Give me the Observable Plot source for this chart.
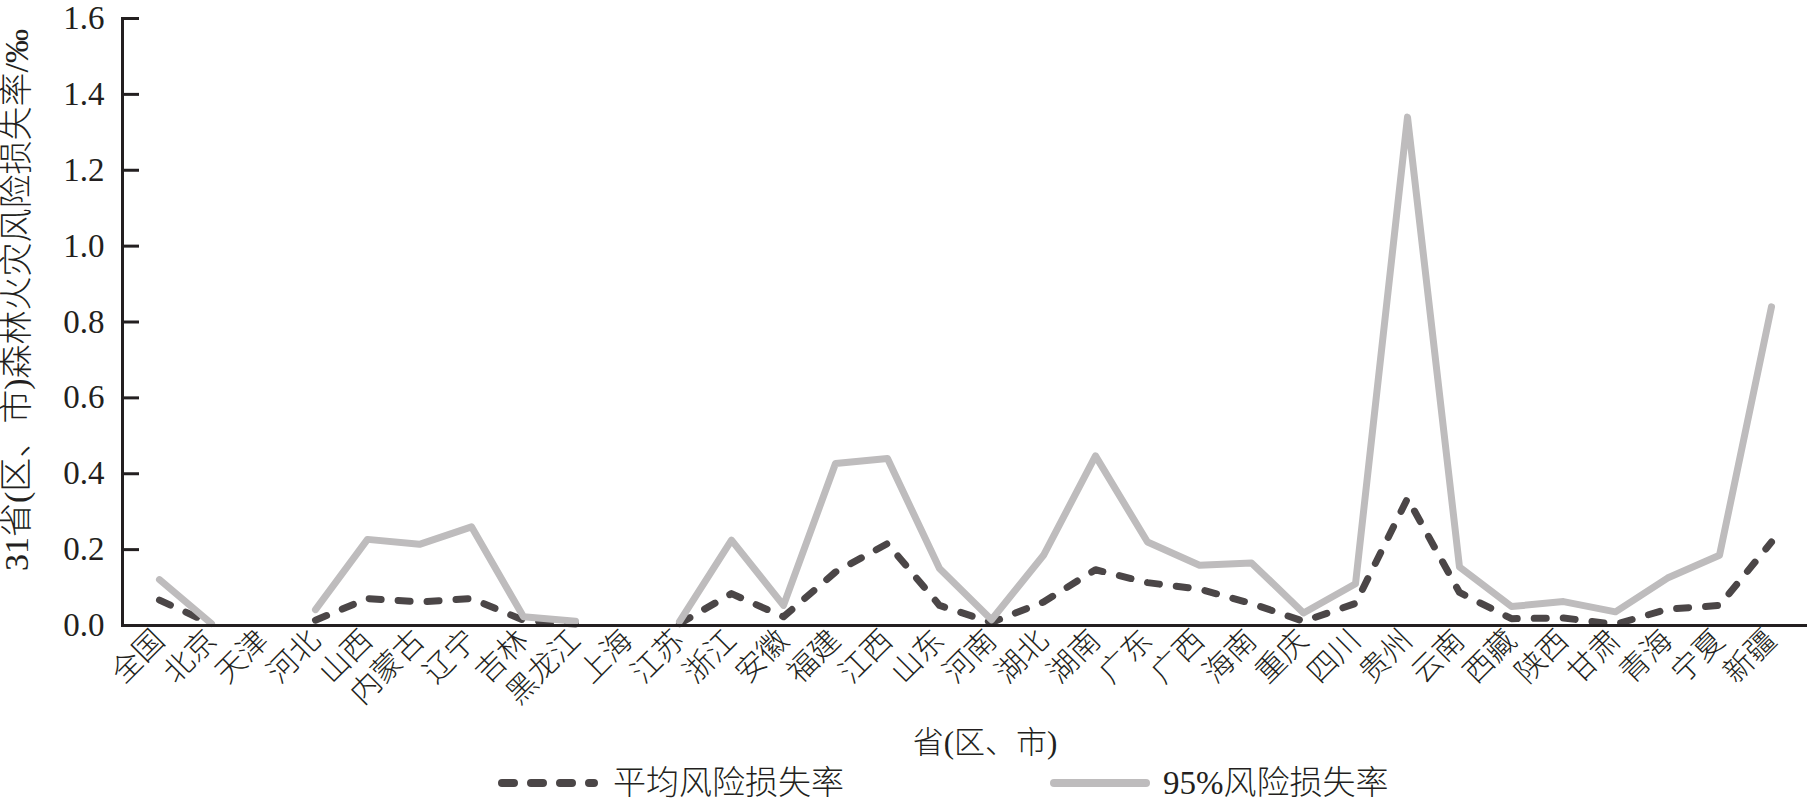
<!DOCTYPE html>
<html>
<head>
<meta charset="utf-8">
<script src="https://cdn.jsdelivr.net/npm/d3@7"></script>
<script src="https://cdn.jsdelivr.net/npm/@observablehq/plot@0.6"></script>
<style>
  html, body { margin: 0; padding: 0; background: #ffffff; }
  #wrap { position: relative; width: 1807px; }
  #legend { position: relative; width: 1807px; height: 43px; font-family: "Liberation Serif", "Noto Sans CJK SC", serif; font-size: 33px; font-weight: 300; color: #231f20; }
  .sw { position: absolute; top: 17px; }
  .lt { position: absolute; top: 2px; line-height: 42px; white-space: nowrap; }
</style>
</head>
<body>
<div id="wrap"></div>
<div id="legend"></div>
<script>
const categories = ["全国","北京","天津","河北","山西","内蒙古","辽宁","吉林","黑龙江","上海","江苏","浙江","安徽","福建","江西","山东","河南","湖北","湖南","广东","广西","海南","重庆","四川","贵州","云南","西藏","陕西","甘肃","青海","宁夏","新疆"];
const meanRate = [0.067, 0.004, null, 0.014, 0.071, 0.062, 0.071, 0.014, 0.004, null, 0.005, 0.084, 0.023, 0.141, 0.216, 0.053, 0.008, 0.062, 0.147, 0.113, 0.096, 0.058, 0.011, 0.058, 0.335, 0.087, 0.018, 0.020, 0.003, 0.043, 0.053, 0.220];
const p95Rate = [0.121, 0.005, null, 0.042, 0.227, 0.214, 0.260, 0.023, 0.011, null, 0.010, 0.225, 0.053, 0.427, 0.440, 0.150, 0.015, 0.185, 0.447, 0.220, 0.159, 0.165, 0.033, 0.110, 1.340, 0.154, 0.050, 0.063, 0.036, 0.125, 0.185, 0.840];
const yTicks = [0, 0.2, 0.4, 0.6, 0.8, 1.0, 1.2, 1.4, 1.6];
const seriesNames = ["平均风险损失率", "95%风险损失率"];
const yTitle = "31省(区、市)森林火灾风险损失率/‰";
const xTitle = "省(区、市)";

const data = categories.map((c, i) => ({cat: c, mean: meanRate[i], p95: p95Rate[i]}));

const ink = "#231f20";
const darkLine = "#4b4647";
const grayLine = "#bebcbd";
const dash = "12,17";

const chart = Plot.plot({
  width: 1807,
  height: 760,
  marginTop: 18,
  marginBottom: 135,
  marginLeft: 122,
  marginRight: 0,
  style: {fontFamily: '"Liberation Serif", "Noto Sans CJK SC", serif', fontSize: "28px", fontWeight: 300, color: ink, background: "#ffffff", overflow: "visible"},
  x: {type: "point", domain: categories, padding: 0.5},
  y: {domain: [0, 1.6]},
  marks: [
    Plot.axisY(yTicks, {tickSize: -17, tickPadding: 35, strokeWidth: 3, stroke: ink, tickFormat: d3.format(".1f"), fontSize: 33, label: null}),
    Plot.axisX({tickSize: 0, tickRotate: -45, tickPadding: 10, fontSize: 30, label: null, dx: 0}),
    Plot.line(data, {x: "cat", y: "mean", stroke: darkLine, strokeWidth: 7, strokeDasharray: dash, strokeLinecap: "round", strokeLinejoin: "round"}),
    Plot.line(data, {x: "cat", y: "p95", stroke: grayLine, strokeWidth: 7, strokeLinecap: "round", strokeLinejoin: "round"}),
    Plot.frame({anchor: "left", stroke: ink, strokeWidth: 3}),
    Plot.ruleY([0], {stroke: ink, strokeWidth: 3}),
    Plot.text([yTitle], {text: d => d, frameAnchor: "left", rotate: -90, dx: -105, dy: -22, fontSize: 34, textAnchor: "middle", lineAnchor: "middle", fill: ink}),
    Plot.text([xTitle], {text: d => d, frameAnchor: "bottom", dx: 20, dy: 118, fontSize: 31, textAnchor: "middle", lineAnchor: "middle", fill: ink})
  ]
});
chart.style.display = "block";
document.getElementById("wrap").appendChild(chart);

const legend = document.getElementById("legend");
const items = [
  {name: seriesNames[0], swLeft: 498, txtLeft: 613, stroke: darkLine, dashed: true},
  {name: seriesNames[1], swLeft: 1050, txtLeft: 1163, stroke: grayLine, dashed: false}
];
for (const it of items) {
  const ns = "http://www.w3.org/2000/svg";
  const svg = document.createElementNS(ns, "svg");
  svg.setAttribute("width", 104);
  svg.setAttribute("height", 12);
  svg.setAttribute("class", "sw");
  svg.style.left = (it.swLeft - 2) + "px";
  const ln = document.createElementNS(ns, "line");
  ln.setAttribute("x1", 6); ln.setAttribute("x2", 98);
  ln.setAttribute("y1", 6); ln.setAttribute("y2", 6);
  ln.setAttribute("stroke", it.stroke);
  ln.setAttribute("stroke-width", 8);
  ln.setAttribute("stroke-linecap", "round");
  if (it.dashed) ln.setAttribute("stroke-dasharray", "12,17");
  svg.appendChild(ln);
  legend.appendChild(svg);
  const t = document.createElement("div");
  t.className = "lt";
  t.style.left = it.txtLeft + "px";
  t.textContent = it.name;
  legend.appendChild(t);
}
</script>
</body>
</html>
